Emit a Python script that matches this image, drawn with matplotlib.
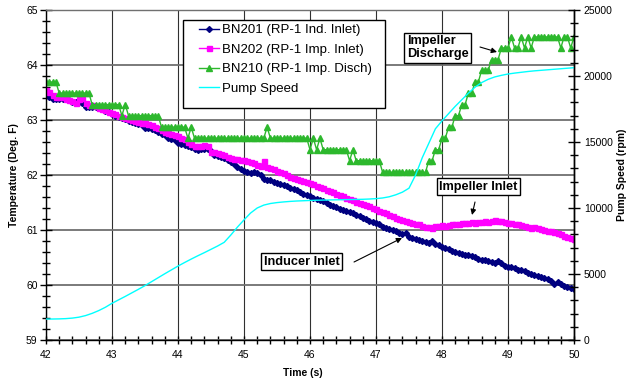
import numpy as np
import matplotlib
matplotlib.use("Agg")
import matplotlib.pyplot as plt
from matplotlib.patches import Rectangle
from matplotlib.ticker import MultipleLocator

plt.rcParams['font.family'] = ['Liberation Sans', 'DejaVu Sans']

# readings every 0.05 s from 42 s to 50 s
t = np.round(42.0 + 0.05 * np.arange(161), 2)

# BN201 (RP-1 Ind. Inlet), deg F
bn201 = [
    63.48, 63.42, 63.38, 63.38, 63.38, 63.38, 63.38, 63.36, 63.33, 63.33,
    63.33, 63.30, 63.24, 63.24, 63.24, 63.24, 63.22, 63.20, 63.17, 63.14,
    63.10, 63.08, 63.06, 63.04, 63.02, 62.99, 62.97, 62.94, 62.92, 62.90,
    62.86, 62.85, 62.83, 62.81, 62.78, 62.75, 62.72, 62.68, 62.66, 62.63,
    62.58, 62.57, 62.55, 62.52, 62.50, 62.47, 62.46, 62.47, 62.47, 62.47,
    62.44, 62.37, 62.35, 62.33, 62.30, 62.27, 62.24, 62.20, 62.15, 62.11,
    62.08, 62.06, 62.04, 62.05, 62.04, 62.00, 61.93, 61.91, 61.90, 61.88,
    61.86, 61.84, 61.82, 61.80, 61.77, 61.75, 61.72, 61.69, 61.66, 61.64,
    61.62, 61.59, 61.56, 61.54, 61.52, 61.49, 61.46, 61.43, 61.41, 61.38,
    61.36, 61.34, 61.32, 61.30, 61.28, 61.25, 61.22, 61.20, 61.17, 61.14,
    61.12, 61.10, 61.06, 61.04, 61.02, 61.00, 60.98, 60.95, 60.92, 60.94,
    60.88, 60.86, 60.84, 60.82, 60.80, 60.78, 60.76, 60.80, 60.74, 60.72,
    60.69, 60.67, 60.65, 60.62, 60.60, 60.58, 60.56, 60.55, 60.54, 60.52,
    60.50, 60.48, 60.46, 60.45, 60.44, 60.42, 60.40, 60.44, 60.40, 60.34,
    60.32, 60.32, 60.30, 60.28, 60.27, 60.25, 60.22, 60.20, 60.18, 60.16,
    60.14, 60.12, 60.10, 60.08, 60.02, 60.06, 60.02, 59.99, 59.97, 59.95,
    59.93,
]

# BN202 (RP-1 Imp. Inlet), deg F
bn202 = [
    63.55, 63.50, 63.45, 63.42, 63.42, 63.41, 63.38, 63.36, 63.35, 63.30,
    63.38, 63.40, 63.30, 63.28, 63.27, 63.26, 63.22, 63.20, 63.18, 63.15,
    63.13, 63.10, 63.08, 63.06, 63.04, 63.02, 63.00, 62.98, 62.96, 62.94,
    62.95, 62.92, 62.90, 62.88, 62.85, 62.82, 62.79, 62.76, 62.74, 62.72,
    62.70, 62.67, 62.65, 62.60, 62.56, 62.53, 62.52, 62.53, 62.54, 62.53,
    62.42, 62.41, 62.40, 62.38, 62.36, 62.33, 62.31, 62.29, 62.29, 62.28,
    62.27, 62.25, 62.23, 62.21, 62.19, 62.17, 62.25, 62.14, 62.12, 62.10,
    62.07, 62.05, 62.03, 62.00, 61.97, 61.95, 61.93, 61.91, 61.89, 61.87,
    61.86, 61.84, 61.80, 61.78, 61.76, 61.73, 61.71, 61.69, 61.66, 61.64,
    61.61, 61.58, 61.56, 61.54, 61.51, 61.49, 61.47, 61.45, 61.43, 61.40,
    61.38, 61.35, 61.32, 61.30, 61.27, 61.25, 61.22, 61.20, 61.18, 61.16,
    61.15, 61.13, 61.11, 61.10, 61.08, 61.06, 61.05, 61.04, 61.07, 61.08,
    61.09, 61.08, 61.09, 61.10, 61.11, 61.10, 61.12, 61.13, 61.12, 61.14,
    61.13, 61.15, 61.14, 61.16, 61.15, 61.16, 61.18, 61.16, 61.17, 61.15,
    61.13, 61.13, 61.11, 61.10, 61.09, 61.07, 61.05, 61.04, 61.06, 61.03,
    61.01, 61.00, 60.98, 60.99, 60.96, 60.94, 60.92, 60.89, 60.87, 60.85,
    60.83,
]

# BN210 (RP-1 Imp. Disch), deg F
bn210 = [
    63.69, 63.69, 63.69, 63.69, 63.49, 63.49, 63.49, 63.49, 63.49, 63.49,
    63.49, 63.49, 63.49, 63.49, 63.28, 63.28, 63.28, 63.28, 63.28, 63.28,
    63.28, 63.28, 63.28, 63.08, 63.28, 63.08, 63.08, 63.08, 63.08, 63.08,
    63.08, 63.08, 63.08, 63.08, 63.08, 62.87, 62.87, 62.87, 62.87, 62.87,
    62.87, 62.87, 62.87, 62.67, 62.87, 62.67, 62.67, 62.67, 62.67, 62.67,
    62.67, 62.67, 62.67, 62.67, 62.67, 62.67, 62.67, 62.67, 62.67, 62.67,
    62.67, 62.67, 62.67, 62.67, 62.67, 62.67, 62.67, 62.87, 62.67, 62.67,
    62.67, 62.67, 62.67, 62.67, 62.67, 62.67, 62.67, 62.67, 62.67, 62.67,
    62.46, 62.67, 62.46, 62.67, 62.46, 62.46, 62.46, 62.46, 62.46, 62.46,
    62.46, 62.46, 62.26, 62.46, 62.26, 62.26, 62.26, 62.26, 62.26, 62.26,
    62.26, 62.26, 62.05, 62.05, 62.05, 62.05, 62.05, 62.05, 62.05, 62.05,
    62.05, 62.05, 62.05, 62.05, 62.05, 62.05, 62.26, 62.26, 62.46, 62.46,
    62.67, 62.67, 62.87, 62.87, 63.08, 63.08, 63.28, 63.28, 63.49, 63.49,
    63.69, 63.69, 63.90, 63.90, 63.90, 64.10, 64.10, 64.10, 64.31, 64.31,
    64.31, 64.51, 64.31, 64.31, 64.51, 64.31, 64.51, 64.31, 64.51, 64.51,
    64.51, 64.51, 64.51, 64.51, 64.51, 64.51, 64.31, 64.51, 64.51, 64.31,
    64.51,
]

# pump speed, every 0.1 s
pump_t = np.round(42.0 + 0.1 * np.arange(81), 1)
pump_rpm = [
    1590, 1590, 1600, 1620, 1660, 1730, 1850, 2020, 2230, 2480,
    2780, 3040, 3300, 3570, 3840, 4120, 4420, 4720, 5020, 5310,
    5600, 5870, 6130, 6380, 6620, 6870, 7120, 7400, 7950, 8550,
    9100, 9620, 10000, 10220, 10340, 10410, 10460, 10500, 10530, 10550,
    10570, 10590, 10600, 10610, 10620, 10630, 10640, 10650, 10660, 10680,
    10710, 10760, 10850, 11000, 11200, 11500, 12500, 13800, 14900, 16000,
    16600, 17150, 17700, 18200, 18700, 19150, 19500, 19750, 19930, 20050,
    20150, 20220, 20280, 20340, 20390, 20430, 20470, 20510, 20550, 20590,
    20630,
]

labels = ['BN201 (RP-1 Ind. Inlet)', 'BN202 (RP-1 Imp. Inlet)',
          'BN210 (RP-1 Imp. Disch)', 'Pump Speed']

W, H = 627, 381
fig = plt.figure(figsize=(W / 100, H / 100), dpi=100)
ax = fig.add_axes([46 / W, 41 / H, 528 / W, 330 / H])
ax2 = ax.twinx()

l1, = ax.plot(t, bn201, color='#000080', marker='D', ms=3, lw=1, label=labels[0])
l2, = ax.plot(t, bn202, color='#FF00FF', marker='s', ms=3.6, lw=1, label=labels[1])
l3, = ax.plot(t, bn210, color='#2DB82D', marker='^', ms=4, lw=1, label=labels[2])
l4, = ax2.plot(pump_t, pump_rpm, color='#00FFFF', lw=1, label=labels[3])

ax.set_xlim(42, 50)
ax.set_ylim(59, 65)
ax2.set_ylim(0, 25000)
ax.xaxis.set_major_locator(MultipleLocator(1))
ax.xaxis.set_minor_locator(MultipleLocator(0.2))
ax.yaxis.set_major_locator(MultipleLocator(1))
ax.yaxis.set_minor_locator(MultipleLocator(0.2))
ax2.yaxis.set_major_locator(MultipleLocator(5000))
ax2.yaxis.set_minor_locator(MultipleLocator(1000))

ax.set_axisbelow(True)
ax.grid(axis='y', which='major', color='#707070', lw=1.3)
ax.grid(axis='x', which='major', color='#303030', lw=0.8)

for a in (ax, ax2):
    a.tick_params(which='both', direction='inout', width=1, labelsize=7.5, colors='black')
    a.tick_params(which='major', length=8)
    a.tick_params(which='minor', length=6)
ax.tick_params(axis='x', which='both', length=6, pad=4)
ax.tick_params(axis='y', pad=2)
ax2.tick_params(axis='y', pad=3)

for a in (ax, ax2):
    for s in a.spines.values():
        s.set_linewidth(1)
ax.spines['top'].set_color('#707070')
ax2.spines['top'].set_visible(False)
ax2.spines['left'].set_visible(False)
ax2.spines['bottom'].set_visible(False)

ax.set_xlabel('Time (s)', fontsize=7.5, fontweight='bold')
ax.xaxis.set_label_coords(0.487, -0.085)
ax.set_ylabel('Temperature (Deg. F)', fontsize=7.5, fontweight='bold')
ax.yaxis.set_label_coords(-0.051, 0.5)
ax2.set_ylabel('Pump Speed (rpm)', fontsize=7.5, fontweight='bold')
ax2.yaxis.set_label_coords(1.081, 0.5)

# callouts
box = dict(boxstyle='square,pad=0.2', fc='white', ec='black', lw=1)
ax2.text(47.47, 64.31, 'Impeller\nDischarge', transform=ax.transData, ha='left',
         va='center', fontsize=9.2, fontweight='bold', bbox=box, zorder=10,
         linespacing=1.1)
ax2.text(48.553, 61.79, 'Impeller Inlet', transform=ax.transData, ha='center',
         va='center', fontsize=9.2, fontweight='bold', bbox=box, zorder=10)
ax2.text(45.871, 60.427, 'Inducer Inlet', transform=ax.transData, ha='center',
         va='center', fontsize=9.2, fontweight='bold', bbox=box, zorder=10)

arrow = dict(arrowstyle='-|>', color='black', lw=0.8, mutation_scale=8,
             shrinkA=0, shrinkB=0)
for xy, xytext in [((48.833, 64.236), (48.576, 64.327)),
                   ((48.455, 61.273), (48.500, 61.509)),
                   ((47.394, 60.855), (46.667, 60.418))]:
    ax2.annotate('', xy=xy, xytext=xytext, xycoords=ax.transData,
                 textcoords=ax.transData, arrowprops=arrow, zorder=10)

# legend
fig.patches.append(Rectangle((183 / W, 1 - 108 / H), 202 / W, 88 / H,
                             transform=fig.transFigure, fc='white', ec='black',
                             lw=1, zorder=2))
fig.legend([l1, l2, l3, l4], labels, loc='upper left',
           bbox_to_anchor=(199 / W, 1 - 24 / H), frameon=False, fontsize=9.5,
           handlelength=1.55, handletextpad=0.2, labelspacing=0.55,
           borderpad=0, borderaxespad=0, numpoints=1)

fig.savefig('out.png', dpi=100)
